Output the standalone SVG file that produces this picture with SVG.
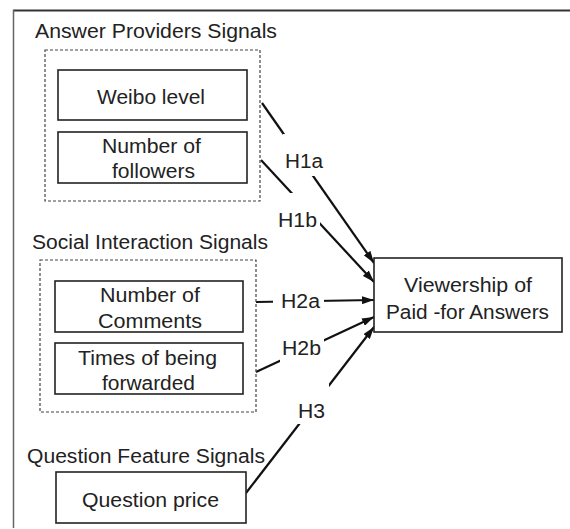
<svg xmlns="http://www.w3.org/2000/svg" width="570" height="529" viewBox="0 0 570 529">
  <defs>
    <marker id="arrow" viewBox="0 0 12 8" refX="12" refY="4" markerWidth="12" markerHeight="8" markerUnits="userSpaceOnUse" orient="auto">
      <path d="M0,0 L12,4 L0,8 Z" fill="#111"/>
    </marker>
    <style>
      text { font-family: "Liberation Sans", Arial, sans-serif; font-size: 19.5px; fill: #222; text-anchor: middle; }
      .box { fill: #fff; stroke: #222; stroke-width: 1.6; }
      .group { fill: none; stroke: #444; stroke-width: 1.2; stroke-dasharray: 3 2; }
      .edge { fill: none; stroke: #111; stroke-width: 2.2; }
      .tag { fill: #fff; stroke: none; }
    </style>
  </defs>

  <rect width="570" height="529" fill="#fff"/>

  <!-- frame -->
  <line x1="13" y1="10.5" x2="570" y2="10.5" stroke="#333" stroke-width="2"/>
  <line x1="13.5" y1="10" x2="13.5" y2="528" stroke="#666" stroke-width="1.5"/>

  <!-- connectors -->
  <g id="connectors">
    <line class="edge" x1="262" y1="103" x2="374" y2="263" marker-end="url(#arrow)"/>
    <line class="edge" x1="261" y1="160" x2="374" y2="282" marker-end="url(#arrow)"/>
    <line class="edge" x1="256" y1="302" x2="374" y2="300" marker-end="url(#arrow)"/>
    <line class="edge" x1="256" y1="372" x2="374" y2="317" marker-end="url(#arrow)"/>
    <line class="edge" x1="246" y1="493" x2="374" y2="327" marker-end="url(#arrow)"/>

    <rect class="tag" x="283" y="134" width="42" height="42"/>
    <text x="304" y="168" textLength="38" lengthAdjust="spacingAndGlyphs">H1a</text>
    <rect class="tag" x="276" y="193" width="44" height="35"/>
    <text x="297.5" y="227" textLength="39" lengthAdjust="spacingAndGlyphs">H1b</text>
    <rect class="tag" x="273" y="288" width="51" height="24"/>
    <text x="300.5" y="308" textLength="39" lengthAdjust="spacingAndGlyphs">H2a</text>
    <rect class="tag" x="280" y="338" width="44" height="25"/>
    <text x="301.5" y="355" textLength="39" lengthAdjust="spacingAndGlyphs">H2b</text>
    <rect class="tag" x="295" y="383" width="34" height="41"/>
    <text x="311.5" y="418" textLength="27" lengthAdjust="spacingAndGlyphs">H3</text>
  </g>

  <!-- answer provider signals -->
  <g id="answer-providers">
    <text x="156" y="38" textLength="242" lengthAdjust="spacingAndGlyphs">Answer Providers Signals</text>
    <rect class="group" x="45" y="50" width="215" height="151"/>
  </g>
  <g id="weibo-level">
    <rect class="box" x="58" y="70" width="189" height="50"/>
    <text x="151" y="104" textLength="108" lengthAdjust="spacingAndGlyphs">Weibo level</text>
  </g>
  <g id="followers">
    <rect class="box" x="58" y="132" width="189" height="51"/>
    <text x="151.5" y="153" textLength="99" lengthAdjust="spacingAndGlyphs">Number of</text>
    <text x="153.5" y="178" textLength="83" lengthAdjust="spacingAndGlyphs">followers</text>
  </g>

  <!-- social interaction signals -->
  <g id="social-interaction">
    <text x="150" y="249" textLength="236" lengthAdjust="spacingAndGlyphs">Social Interaction Signals</text>
    <rect class="group" x="40" y="260" width="216" height="152"/>
  </g>
  <g id="comments">
    <rect class="box" x="55" y="281" width="188" height="51"/>
    <text x="150" y="302" textLength="100" lengthAdjust="spacingAndGlyphs">Number of</text>
    <text x="150" y="328" textLength="104" lengthAdjust="spacingAndGlyphs">Comments</text>
  </g>
  <g id="forwarded">
    <rect class="box" x="55" y="343" width="188" height="51"/>
    <text x="147.5" y="365" textLength="139" lengthAdjust="spacingAndGlyphs">Times of being</text>
    <text x="148.5" y="390" textLength="93" lengthAdjust="spacingAndGlyphs">forwarded</text>
  </g>

  <!-- question feature signals -->
  <g id="question-feature">
    <text x="146" y="463" textLength="238" lengthAdjust="spacingAndGlyphs">Question Feature Signals</text>
  </g>
  <g id="question-price">
    <rect class="box" x="56" y="472" width="190" height="51"/>
    <text x="150.5" y="507" textLength="137" lengthAdjust="spacingAndGlyphs">Question price</text>
  </g>

  <!-- outcome -->
  <g id="viewership">
    <rect class="box" x="374" y="258" width="188" height="74"/>
    <text x="468" y="292" textLength="128" lengthAdjust="spacingAndGlyphs">Viewership of</text>
    <text x="467.5" y="319" textLength="163" lengthAdjust="spacingAndGlyphs">Paid -for Answers</text>
  </g>
</svg>
